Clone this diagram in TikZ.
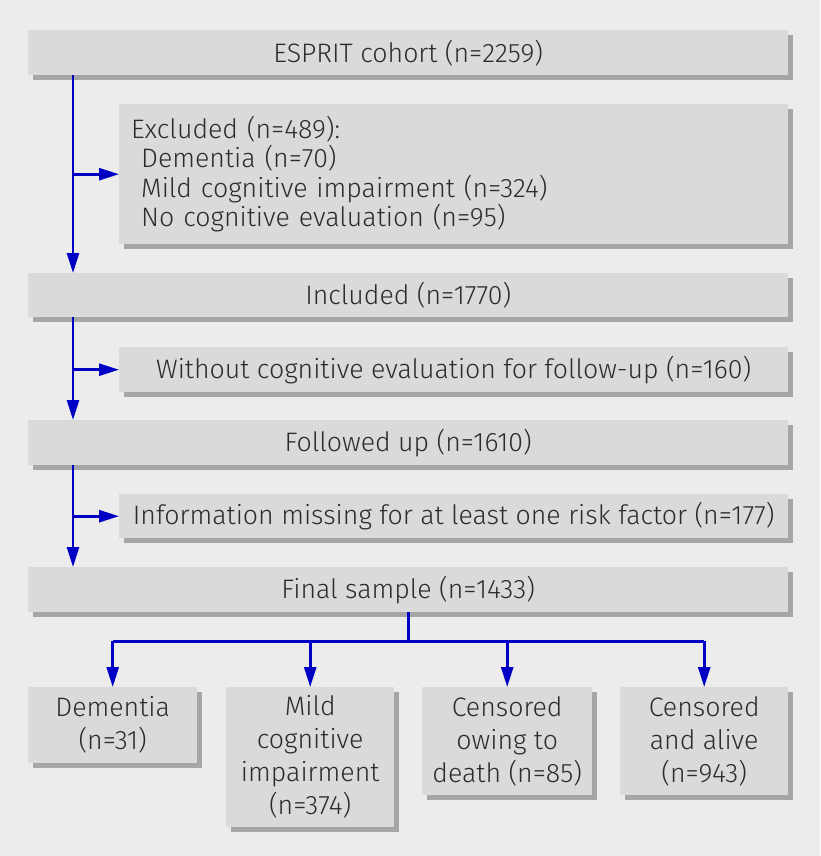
\documentclass[tikz,border=0pt]{standalone}
\usepackage{fontspec}
\setmainfont{Fira Sans Light}
\usepackage{tikz}
\usetikzlibrary{arrows.meta, shadows}
\usepackage{xcolor}
\definecolor{pagebg}{HTML}{ECECEC}
\definecolor{boxfill}{HTML}{DADADA}
\definecolor{boxshade}{HTML}{A6A6A6}
\definecolor{flowblue}{HTML}{0000C4}
\definecolor{textgrey}{HTML}{2C2C2C}

\begin{document}
\begin{tikzpicture}[x=1pt, y=-1pt,
  stage/.style={fill=boxfill, anchor=north west, inner sep=0pt,
    text=textgrey, font=\fontsize{26.7}{29.5}\selectfont,
    drop shadow={shadow xshift=5pt, shadow yshift=-5pt, fill=boxshade, opacity=1}},
  outcome/.style={stage, align=center, font=\fontsize{26.7}{33}\selectfont},
  link/.style={draw=flowblue, line width=2.6pt},
  flow/.style={link, -{Triangle[length=20pt, width=12pt]}}
]
  \fill[pagebg] (0,0) rectangle (820,856);
  \useasboundingbox (0,0) rectangle (820,856);

  \node[stage, minimum width=760pt, minimum height=45pt] (esprit) at (28,30) {ESPRIT cohort (n=2259)};
  \node[stage, minimum width=669pt, minimum height=140pt, text width=645pt, align=left] (excl) at (119,104)
    {Excluded (n=489):\\
     \hspace*{10pt}Dementia (n=70)\\
     \hspace*{10pt}Mild cognitive impairment (n=324)\\
     \hspace*{10pt}No cognitive evaluation (n=95)};
  \node[stage, minimum width=760pt, minimum height=44pt] (incl) at (28,273) {Included (n=1770)};
  \node[stage, minimum width=669pt, minimum height=45pt] (nofu) at (119,347) {Without cognitive evaluation for follow-up (n=160)};
  \node[stage, minimum width=760pt, minimum height=45pt] (fu) at (28,420) {Followed up (n=1610)};
  \node[stage, minimum width=669pt, minimum height=44pt] (miss) at (119,494) {Information missing for at least one risk factor (n=177)};
  \node[stage, minimum width=760pt, minimum height=45pt] (final) at (28,567) {Final sample (n=1433)};

  \node[outcome, minimum width=169pt, minimum height=76pt] (dem) at (28,687) {Dementia\\(n=31)};
  \node[outcome, minimum width=168pt, minimum height=140pt] (mci) at (226,687) {Mild\\cognitive\\impairment\\(n=374)};
  \node[outcome, minimum width=170pt, minimum height=108pt] (death) at (422,687) {Censored\\owing to\\death (n=85)};
  \node[outcome, minimum width=168pt, minimum height=108pt] (alive) at (620,687) {Censored\\and alive\\(n=943)};

  % main spine
  \coordinate (spine) at (73,0);
  \draw[flow] (esprit.south -| spine) -- (incl.north -| spine);
  \draw[flow] (incl.south -| spine) -- (fu.north -| spine);
  \draw[flow] (fu.south -| spine) -- (final.north -| spine);

  \draw[flow] (excl.west -| spine) -- (excl.west);
  \draw[flow] (nofu.west -| spine) -- (nofu.west);
  \draw[flow] (miss.west -| spine) -- (miss.west);

  % split into outcomes
  \draw[link] (final.south) -- ++(0,29) coordinate (split);
  \draw[link] (split -| dem.north) -- (split -| alive.north);
  \foreach \n in {dem, mci, death, alive}
    \draw[flow] (split -| \n.north) -- (\n.north);
\end{tikzpicture}
\end{document}
